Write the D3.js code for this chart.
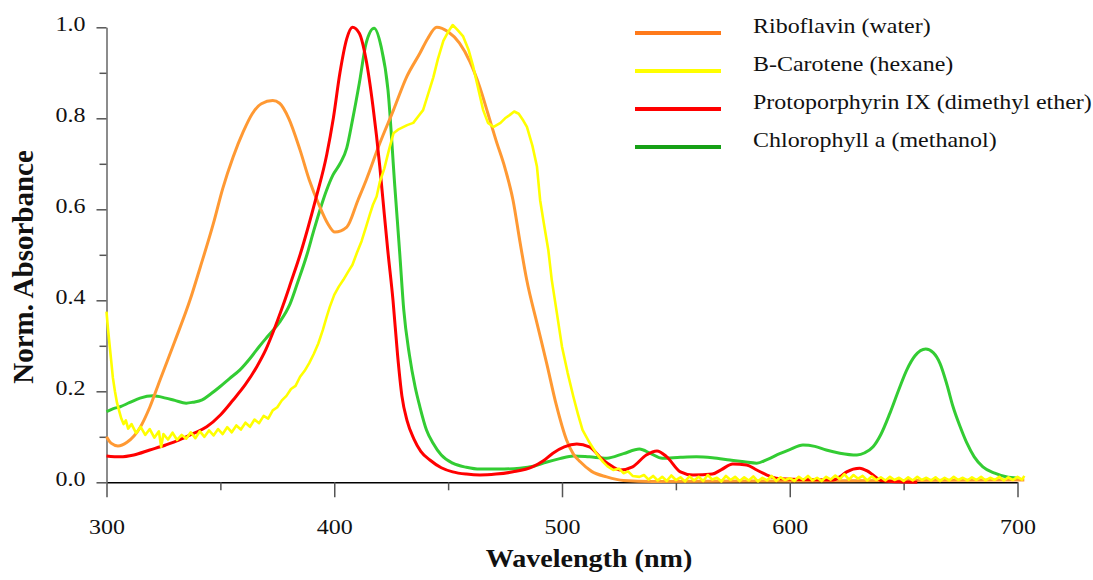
<!DOCTYPE html>
<meta charset="utf-8">
<script src="https://cdn.jsdelivr.net/npm/d3@7"></script>
<style>
  body { margin: 0; background: #fff; }
  text { font-family: "Liberation Serif", "Times New Roman", serif; fill: #111; }
</style>
<svg id="graph" width="1093" height="580"></svg>
<script>

// ---- data ----
var seriesNames = ["Riboflavin (water)", "B-Carotene (hexane)", "Protoporphyrin IX (dimethyl ether)", "Chlorophyll a (methanol)"];

var riboflavinNm  = [300, 302, 305, 309, 314.7, 319, 323.5, 330, 336.7, 341, 347, 351, 355.6, 360, 364, 368, 373, 376, 380, 385, 389, 393.7, 397, 400.3, 405.5, 410.4, 414, 420, 426, 431.8, 437.6, 441, 445, 450, 455, 459.5, 463.8, 467.5, 471, 475, 478.5, 481.5, 484.5, 489, 493.3, 497.5, 502, 505, 508, 513, 519.6, 527, 540, 600, 703];
var riboflavinAbs = [0.100, 0.086, 0.080, 0.088, 0.120, 0.165, 0.225, 0.310, 0.401, 0.470, 0.570, 0.645, 0.715, 0.770, 0.810, 0.832, 0.839, 0.833, 0.800, 0.730, 0.665, 0.605, 0.570, 0.550, 0.561, 0.620, 0.664, 0.745, 0.818, 0.891, 0.943, 0.975, 1.000, 0.990, 0.965, 0.925, 0.870, 0.810, 0.752, 0.690, 0.620, 0.530, 0.445, 0.350, 0.261, 0.170, 0.093, 0.062, 0.045, 0.024, 0.012, 0.004, 0.002, 0.003, 0.005];

var caroteneNm  = [300, 300.6, 301.2, 302, 302.8, 303.7, 304.6, 305.5, 306.5, 307.5, 308.5, 309.5,
  311, 313, 315, 317, 319, 321, 323, 324, 325, 327, 329, 331, 333, 335, 337, 339, 341, 343, 345, 347, 349, 351, 353, 355, 357, 359, 361, 363, 365, 367, 369, 371,
  373, 375, 377, 379, 381, 383, 385, 387, 389, 391, 393, 395, 396.7, 398, 400, 402, 404, 406, 408, 410, 412, 414, 415.7, 417, 418.6, 420, 422, 424, 426, 428, 430, 432, 434.7, 437, 439, 441, 443.5, 445.5, 447.9, 450, 452, 454, 456.6, 459, 461, 463, 465.4, 467.5, 470, 473, 475, 477, 479, 481, 483, 484.6, 487, 489, 490.4, 492, 494, 495.5, 497.5, 500, 502.5, 505, 507, 509, 512, 515, 518, 520, 522.5, 525, 527, 529, 531, 534,
  536, 538, 540, 542, 544, 546, 548, 550, 552, 554, 556, 558, 560, 562, 564, 566, 568, 570, 572, 574, 576, 578, 580, 582, 584, 586, 588, 590, 592, 594, 596, 598, 600, 602, 604, 606, 608, 610, 612, 614, 616, 618, 620, 622, 624, 626, 628, 630, 632, 634, 636, 638, 640, 642, 644, 646, 648, 650, 652, 654, 656, 658, 660, 662, 664, 666, 668, 670, 672, 674, 676, 678, 680, 682, 684, 686, 688, 690, 692, 694, 696, 698, 700, 702, 703];
var caroteneAbs = [0.375, 0.340, 0.310, 0.270, 0.230, 0.200, 0.175, 0.158, 0.140, 0.128, 0.136, 0.118,
  0.128, 0.108, 0.122, 0.104, 0.117, 0.098, 0.112, 0.078, 0.106, 0.094, 0.109, 0.093, 0.104, 0.096, 0.110, 0.097, 0.112, 0.100, 0.114, 0.103, 0.117, 0.106, 0.121, 0.110, 0.125, 0.116, 0.131, 0.122, 0.138, 0.130, 0.146, 0.140,
  0.158, 0.165, 0.180, 0.190, 0.205, 0.212, 0.232, 0.245, 0.262, 0.282, 0.305, 0.335, 0.364, 0.385, 0.412, 0.430, 0.445, 0.462, 0.478, 0.505, 0.530, 0.562, 0.590, 0.610, 0.628, 0.660, 0.690, 0.730, 0.767, 0.775, 0.780, 0.785, 0.790, 0.805, 0.818, 0.850, 0.890, 0.930, 0.970, 0.990, 1.005, 0.995, 0.980, 0.950, 0.914, 0.870, 0.818, 0.790, 0.781, 0.790, 0.800, 0.807, 0.815, 0.810, 0.795, 0.781, 0.740, 0.694, 0.620, 0.570, 0.510, 0.445, 0.380, 0.298, 0.240, 0.188, 0.150, 0.115, 0.088, 0.064, 0.045, 0.035, 0.027, 0.030, 0.020, 0.024, 0.014, 0.012,
  0.016, 0.006, 0.014, 0.004, 0.012, 0.003, 0.015, 0.005, 0.011, 0.002, 0.013, 0.004, 0.012, 0.003, 0.016, 0.006, 0.010, 0.002, 0.014, 0.005, 0.012, 0.003, 0.011, 0.004, 0.013, 0.002, 0.010, 0.004, 0.014, 0.003, 0.011, 0.005, 0.009, 0.003, 0.012, 0.005, 0.014, 0.004, 0.010, 0.003, 0.012, 0.006, 0.015, 0.007, 0.018, 0.006, 0.016, 0.008, 0.014, 0.004, 0.013, 0.005, 0.011, 0.004, 0.012, 0.005, 0.010, 0.003, 0.011, 0.004, 0.012, 0.005, 0.010, 0.004, 0.011, 0.003, 0.010, 0.004, 0.012, 0.005, 0.010, 0.004, 0.011, 0.005, 0.012, 0.004, 0.010, 0.005, 0.012, 0.004, 0.011, 0.005, 0.012, 0.006, 0.014];

var porphyrinNm  = [300, 306, 312, 319, 326, 332, 338, 344, 350, 355.6, 361, 366, 370, 373, 377.6, 381, 385, 388.5, 392, 396.7, 399.6, 402.5, 405.5, 408, 411, 414, 417, 420, 421.4, 423.5, 425.8, 427.8, 429.7, 432, 435, 438, 442, 447, 452, 458, 464, 471, 478.5, 487, 492, 496, 501, 506.5, 512, 518, 522, 525.5, 531, 537, 541.7, 546, 552, 557.5, 566, 570, 575, 581, 585.5, 590, 594, 605, 619, 622, 625, 630.7, 634, 636.6, 640, 648, 656];
var porphyrinAbs = [0.058, 0.056, 0.060, 0.071, 0.082, 0.093, 0.107, 0.122, 0.148, 0.181, 0.215, 0.254, 0.292, 0.328, 0.390, 0.440, 0.500, 0.560, 0.625, 0.720, 0.800, 0.900, 0.975, 1.000, 0.987, 0.928, 0.826, 0.694, 0.620, 0.510, 0.400, 0.280, 0.190, 0.135, 0.095, 0.068, 0.049, 0.032, 0.023, 0.018, 0.016, 0.018, 0.023, 0.034, 0.048, 0.064, 0.078, 0.084, 0.078, 0.049, 0.035, 0.027, 0.034, 0.060, 0.069, 0.056, 0.023, 0.016, 0.018, 0.028, 0.040, 0.038, 0.027, 0.016, 0.009, 0.006, 0.005, 0.012, 0.023, 0.031, 0.025, 0.016, 0.004, 0.001, 0.000];

var chlorophyllNm  = [300, 303, 306, 310, 314.7, 320.5, 326, 330, 335, 338, 342, 346, 349.8, 354, 358.6, 363, 367, 371, 376, 380.6, 384, 388, 391, 393.7, 396.5, 399.4, 402.5, 405.5, 408, 411, 414, 417.5, 420.6, 423.6, 426.6, 428.8, 430.5, 433, 435.5, 437.6, 440.5, 443.4, 447, 452, 458, 464, 472, 481.5, 488, 493, 499, 505, 512, 519.7, 527, 534, 539, 544, 552, 559, 566, 573.7, 580, 585.5, 590, 595.6, 600, 605.8, 611, 616, 622, 629.5, 633, 636.6, 640, 644, 648, 651.4, 655, 659.7, 663, 666, 669, 671.7, 675, 677.8, 681, 684.8, 690, 695, 700];
var chlorophyllAbs = [0.155, 0.162, 0.166, 0.175, 0.185, 0.190, 0.185, 0.180, 0.174, 0.176, 0.181, 0.195, 0.210, 0.228, 0.247, 0.272, 0.298, 0.322, 0.352, 0.392, 0.440, 0.500, 0.553, 0.598, 0.640, 0.675, 0.700, 0.735, 0.796, 0.877, 0.965, 0.998, 0.957, 0.862, 0.650, 0.500, 0.380, 0.280, 0.210, 0.166, 0.115, 0.086, 0.060, 0.042, 0.033, 0.029, 0.029, 0.031, 0.036, 0.044, 0.052, 0.058, 0.056, 0.053, 0.063, 0.073, 0.063, 0.053, 0.055, 0.056, 0.054, 0.049, 0.045, 0.042, 0.050, 0.063, 0.072, 0.082, 0.079, 0.071, 0.064, 0.060, 0.065, 0.078, 0.105, 0.152, 0.205, 0.247, 0.278, 0.293, 0.285, 0.261, 0.215, 0.166, 0.120, 0.086, 0.056, 0.034, 0.020, 0.012, 0.009];

var xMajorTicks = [300, 400, 500, 600, 700];
var xMinorTicks = [350, 450, 550, 650];
var yMajorTicks = [0, 0.2, 0.4, 0.6, 0.8, 1.0];
var yMinorTicks = [0.1, 0.3, 0.5, 0.7, 0.9];

var lineColors   = ["#ff9933", "#ffff00", "#ff0000", "#33cc33"];
var legendColors = ["#ff7a1a", "#ffff00", "#ff0000", "#16a016"];

// ---- layout ----
var svg = d3.select("#graph");
var x = d3.scaleLinear().domain([300, 700]).range([106.5, 1017.5]);
var y = d3.scaleLinear().domain([0, 1]).range([482.3, 27.3]);
var stretch = "scale(1.09,1)";

function zip(nm, ab) { return nm.map(function(d, i) { return {nm: d, v: ab[i]}; }); }

var series = [
  {name: seriesNames[0], values: zip(riboflavinNm, riboflavinAbs), color: lineColors[0], legend: legendColors[0], curve: d3.curveMonotoneX, w: 3},
  {name: seriesNames[1], values: zip(caroteneNm, caroteneAbs), color: lineColors[1], legend: legendColors[1], curve: d3.curveLinear, w: 2.6},
  {name: seriesNames[2], values: zip(porphyrinNm, porphyrinAbs), color: lineColors[2], legend: legendColors[2], curve: d3.curveMonotoneX, w: 3},
  {name: seriesNames[3], values: zip(chlorophyllNm, chlorophyllAbs), color: lineColors[3], legend: legendColors[3], curve: d3.curveMonotoneX, w: 3}
];

// axes
var xAxis = svg.append("g")
    .attr("transform", "translate(0," + y(0) + ")")
    .call(d3.axisBottom(x).tickValues(xMajorTicks).tickSize(15).tickSizeOuter(0).tickFormat(d3.format("d")));
xAxis.select(".domain").attr("stroke", "#000").attr("stroke-width", 1.5);
xAxis.selectAll(".tick line").attr("stroke", "#555").attr("stroke-width", 1.5);
xAxis.selectAll(".tick text")
    .attr("y", null).attr("dy", null)
    .attr("transform", "translate(0,52) " + stretch)
    .style("font-size", "22px");

var xMinor = svg.append("g")
    .attr("transform", "translate(0," + y(0) + ")")
    .call(d3.axisBottom(x).tickValues(xMinorTicks).tickSize(8).tickSizeOuter(0).tickFormat(""));
xMinor.select(".domain").remove();
xMinor.selectAll(".tick line").attr("stroke", "#555").attr("stroke-width", 1.5);

var yAxis = svg.append("g")
    .attr("transform", "translate(" + x(300) + ",0)")
    .call(d3.axisLeft(y).tickValues(yMajorTicks).tickSize(10).tickSizeOuter(0).tickFormat(d3.format(".1f")));
yAxis.select(".domain").attr("stroke", "#666").attr("stroke-width", 1.5);
yAxis.selectAll(".tick line").attr("stroke", "#555").attr("stroke-width", 1.5);
yAxis.selectAll(".tick text")
    .attr("x", null).attr("dy", null)
    .attr("transform", "translate(-21,3.5) " + stretch)
    .style("font-size", "22px");

var yMinor = svg.append("g")
    .attr("transform", "translate(" + x(300) + ",0)")
    .call(d3.axisLeft(y).tickValues(yMinorTicks).tickSize(7).tickSizeOuter(0).tickFormat(""));
yMinor.select(".domain").remove();
yMinor.selectAll(".tick line").attr("stroke", "#555").attr("stroke-width", 1.5);

// titles
svg.append("text")
    .attr("transform", "translate(589,567) scale(1.08,1)")
    .attr("text-anchor", "middle")
    .style("font-size", "26px").style("font-weight", "bold")
    .text("Wavelength (nm)");

svg.append("text")
    .attr("transform", "translate(33,267) rotate(-90)")
    .attr("text-anchor", "middle")
    .style("font-size", "29px").style("font-weight", "bold")
    .text("Norm. Absorbance");

// spectra (drawing order: green, orange, red, yellow)
var drawOrder = [3, 0, 2, 1];
svg.append("g").selectAll("path")
  .data(drawOrder.map(function(i) { return series[i]; }))
  .join("path")
    .attr("fill", "none")
    .attr("stroke", function(d) { return d.color; })
    .attr("stroke-width", function(d) { return d.w; })
    .attr("stroke-linejoin", "round")
    .attr("d", function(d) {
      return d3.line().curve(d.curve)
        .x(function(p) { return x(p.nm); })
        .y(function(p) { return y(p.v); })(d.values);
    });

// legend
var legend = svg.append("g").selectAll("g")
  .data(series)
  .join("g")
    .attr("transform", function(d, i) { return "translate(635," + (33 + i * 38) + ")"; });

legend.append("line")
    .attr("x1", 0).attr("x2", 86)
    .attr("stroke", function(d) { return d.legend; })
    .attr("stroke-width", 4);

legend.append("text")
    .attr("transform", "translate(118,0) " + stretch)
    .style("font-size", "22px")
    .text(function(d) { return d.name; });

</script>
